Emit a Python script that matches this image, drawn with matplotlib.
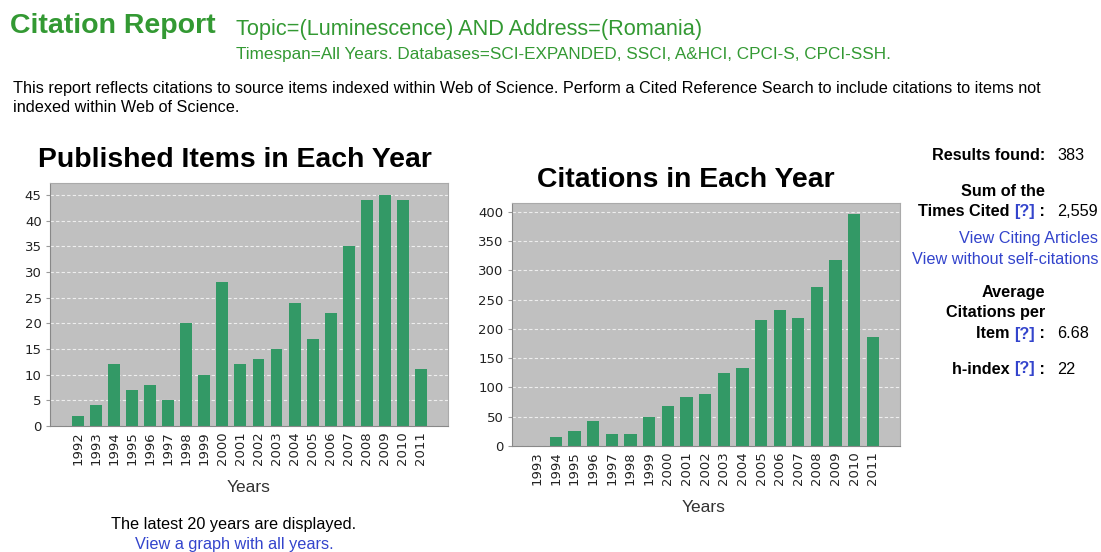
import numpy as np
import matplotlib
matplotlib.use('Agg')
import matplotlib.pyplot as plt

# data
pub_years = [str(y) for y in range(1992, 2012)]
pub_counts = [2, 4, 12, 7, 8, 5, 20, 10, 28, 12, 13, 15, 24, 17, 22, 35, 44, 45, 44, 11]

cit_years = [str(y) for y in range(1993, 2012)]
cit_counts = [0, 15, 25, 42, 20, 20, 49, 69, 83, 88, 124, 134, 216, 233, 219, 272, 318, 397, 187]

W, H = 1101, 552
BAR = '#339966'
BG = '#c0c0c0'
HEAD = '#339933'
LINK = '#3344cc'
FS = 11.7

plt.rcParams['font.family'] = ['Liberation Sans', 'DejaVu Sans']

fig = plt.figure(figsize=(W / 100, H / 100), dpi=100)
fig.patch.set_facecolor('white')


def px(x, y):
    # pixel coords (top-left origin) -> figure fraction
    return x / W, 1 - y / H


def box(l, t, r, b):
    return [l / W, 1 - b / H, (r - l) / W, (b - t) / H]


def bar_chart(rect, labels, vals, ymax, yticks, xpad):
    ax = fig.add_axes(rect)
    ax.set_facecolor(BG)
    x = np.arange(len(vals))
    ax.set_axisbelow(True)
    ax.yaxis.grid(True, color='#eeeeee', linestyle=(0, (3, 2)), linewidth=0.8)
    ax.bar(x, vals, width=0.66, color=BAR, zorder=2)
    ax.set_xlim(-xpad[0], len(vals) - 1 + xpad[1])
    ax.set_ylim(0, ymax)
    ax.set_yticks(yticks)
    ax.set_xticks(x)
    ax.set_xticklabels(labels, rotation=90, fontsize=9.5, family='DejaVu Sans', color='#222222')
    ax.tick_params(axis='x', length=0, pad=4)
    ax.tick_params(axis='y', length=3, labelsize=9.5, color='#999999', labelcolor='#222222', pad=3)
    for s in ax.spines.values():
        s.set_color('#aaaaaa')
        s.set_linewidth(0.8)
    ax.spines['left'].set_color('#888888')
    ax.spines['bottom'].set_color('#888888')
    for t in ax.get_yticklabels():
        t.set_family('DejaVu Sans')
    return ax


ax1 = bar_chart(box(50, 183, 448, 426), pub_years, pub_counts, 47.3,
                range(0, 50, 5), (1.55, 1.5))
ax2 = bar_chart(box(512, 203, 900, 446), cit_years, cit_counts, 415,
                range(0, 450, 50), (1.35, 1.45))

# chart titles and axis labels
fig.text(*px(235, 160), 'Published Items in Each Year', fontsize=20.4, fontweight='bold',
         ha='center', va='center', color='black')
fig.text(*px(686, 180), 'Citations in Each Year', fontsize=20.4, fontweight='bold',
         ha='center', va='center', color='black')
fig.text(*px(249, 487), 'Years', fontsize=12.5, ha='center', va='center', color='#333333')
fig.text(*px(704, 507), 'Years', fontsize=12.5, ha='center', va='center', color='#333333')

# header
fig.text(*px(10, 26), 'Citation Report', fontsize=20.5, fontweight='bold', color=HEAD,
         ha='left', va='center')
fig.text(*px(236, 30), 'Topic=(Luminescence) AND Address=(Romania)', fontsize=15.7,
         color=HEAD, ha='left', va='center')
fig.text(*px(236, 55), 'Timespan=All Years. Databases=SCI-EXPANDED, SSCI, A&HCI, CPCI-S, CPCI-SSH.',
         fontsize=12.3, color=HEAD, ha='left', va='center')
fig.text(*px(13, 89), 'This report reflects citations to source items indexed within Web of Science. '
         'Perform a Cited Reference Search to include citations to items not',
         fontsize=FS, color='black', ha='left', va='center')
fig.text(*px(13, 107), 'indexed within Web of Science.', fontsize=FS, color='black',
         ha='left', va='center')

# notes under the left chart
fig.text(*px(234, 524), 'The latest 20 years are displayed.', fontsize=FS, ha='center',
         va='center', color='black')
fig.text(*px(234, 545), 'View a graph with all years.', fontsize=FS, ha='center',
         va='center', color=LINK)

# summary panel on the right
RX = 1045
VX = 1057
renderer = fig.canvas.get_renderer()


def label(y, parts, value=None):
    # parts: list of (text, colour, bold) drawn right-aligned ending at RX
    x = RX
    for text, col, bold in reversed(parts):
        t = fig.text(*px(x, y), text, fontsize=FS, ha='right', va='center', color=col,
                     fontweight='bold' if bold else 'normal')
        x -= t.get_window_extent(renderer=renderer).width
    if value is not None:
        fig.text(*px(VX, y), value, fontsize=FS, ha='left', va='center', color='black')


label(156, [('Results found:', 'black', True)], '383')
label(191, [('Sum of the', 'black', True)])
label(212, [('Times Cited ', 'black', True), ('[?]', LINK, True), (' :', 'black', True)], '2,559')
fig.text(*px(1098, 239), 'View Citing Articles', fontsize=FS, ha='right', va='center', color=LINK)
fig.text(*px(1098, 260), 'View without self-citations', fontsize=FS, ha='right', va='center', color=LINK)
label(292, [('Average', 'black', True)])
label(313, [('Citations per', 'black', True)])
label(334, [('Item ', 'black', True), ('[?]', LINK, True), (' :', 'black', True)], '6.68')
label(369, [('h-index ', 'black', True), ('[?]', LINK, True), (' :', 'black', True)], '22')

fig.savefig('out.png', dpi=100)
